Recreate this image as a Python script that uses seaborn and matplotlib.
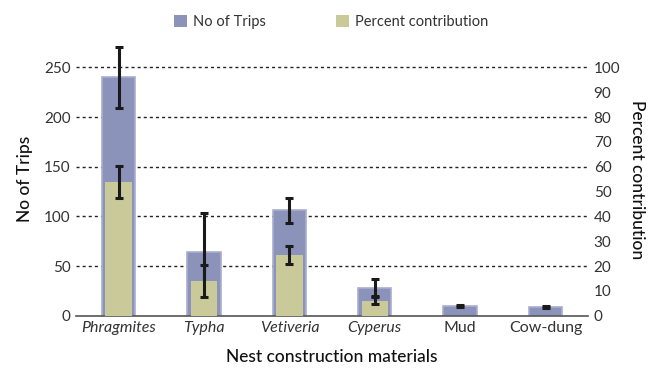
import matplotlib
matplotlib.use("Agg")
import matplotlib.pyplot as plt
from matplotlib.patches import Patch
import seaborn as sns
import pandas as pd

# Nest construction materials and their measurements
materials = ["Phragmites", "Typha", "Vetiveria", "Cyperus", "Mud", "Cow-dung"]
italic = [True, True, True, True, False, False]

trips = [240, 64, 106, 28, 9.5, 8.8]
trips_err_low = [31, 45, 13, 8.5, 1, 1]
trips_err_high = [31, 39, 13, 8.5, 1, 1]

percent = [54, 14, 24.3, 6, 0, 0]
percent_err = [6.4, 6.4, 3.6, 1.4, 0, 0]

blue = "#8c93bb"
blue_edge = "#a9aed0"
green = "#c9c99a"
text_col = "#333333"

sns.set_theme(style="white")
plt.rcParams["font.family"] = ["Lato", "DejaVu Sans"]

df = pd.DataFrame({"material": materials, "trips": trips, "percent": percent})

fig = plt.figure(figsize=(6.55, 3.71), dpi=100)
ax = fig.add_axes([0.116, 0.149, 0.782, 0.736])
ax2 = ax.twinx()

sns.barplot(data=df, x="material", y="trips", color=blue, width=0.39,
            saturation=1, edgecolor=blue_edge, linewidth=1.2, ax=ax)
sns.barplot(data=df, x="material", y="percent", color=green, width=0.31,
            saturation=1, linewidth=0, ax=ax2)

xs = ax.get_xticks()
ax.errorbar(xs, trips, yerr=[trips_err_low, trips_err_high], fmt="none",
            ecolor="#1a1a1a", elinewidth=2.2, capsize=2.8, capthick=2.2, zorder=5)
shown = [i for i, p in enumerate(percent) if p > 0]
ax2.errorbar([xs[i] for i in shown], [percent[i] for i in shown],
             yerr=[percent_err[i] for i in shown], fmt="none",
             ecolor="#1a1a1a", elinewidth=2.2, capsize=2.8, capthick=2.2, zorder=5)

ax.set_xlim(-0.5, 5.5)
ax.set_ylim(0, 275)
ax2.set_ylim(0, 110)
ax.set_yticks([0, 50, 100, 150, 200, 250])
ax2.set_yticks(range(0, 101, 10))

# dotted reference lines behind the bars
for y in [50, 100, 150, 200, 250]:
    ax.axhline(y, color="#222222", linestyle=(0, (2.2, 2.2)), linewidth=1, zorder=0)
ax.set_axisbelow(True)

for a in (ax, ax2):
    for s in ("top", "left", "right", "bottom"):
        a.spines[s].set_visible(False)
    a.tick_params(length=0, labelsize=11, colors=text_col, pad=4)
ax.spines["bottom"].set_visible(True)
ax.spines["bottom"].set_color("#555555")
ax.spines["bottom"].set_linewidth(1.2)

ax.set_xticks(xs)
ax.set_xticklabels(materials)
for lab, it in zip(ax.get_xticklabels(), italic):
    lab.set_style("italic" if it else "normal")
    lab.set_fontsize(11.5)

ax.set_xlabel("Nest construction materials", fontsize=12.5, color="#111111",
              fontweight="medium", labelpad=10)
ax.set_ylabel("No of Trips", fontsize=12.5, color="#111111",
              fontweight="medium", labelpad=8)
ax2.set_ylabel("Percent contribution", fontsize=12.5, color="#111111",
               fontweight="medium", rotation=270, labelpad=18)

handles = [Patch(facecolor=blue, edgecolor="none"),
           Patch(facecolor=green, edgecolor="none")]
fig.legend(handles, ["No of Trips", "Percent contribution"], loc="center",
           bbox_to_anchor=(0.505, 0.94), ncol=2, frameon=False, fontsize=10.5,
           handlelength=0.9, handleheight=0.9, handletextpad=0.4,
           columnspacing=4.8, labelcolor=text_col)

fig.savefig("out.png", dpi=100)
